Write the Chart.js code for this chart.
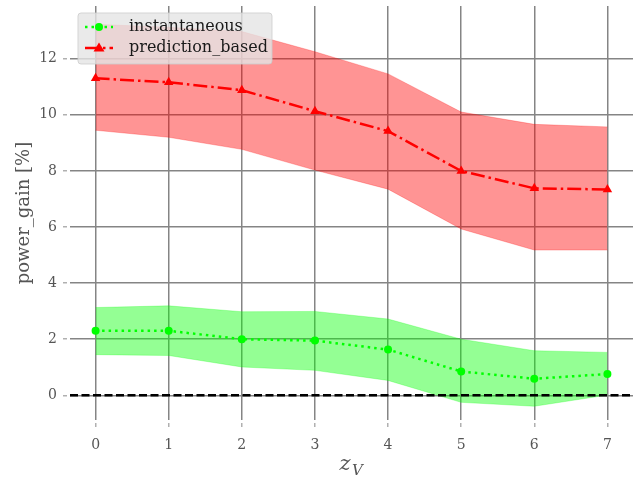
<!DOCTYPE html>
<html>
<head>
<meta charset="utf-8">
<script src="https://cdn.jsdelivr.net/npm/chart.js@4/dist/chart.umd.min.js"></script>
<style>
  html, body { margin: 0; padding: 0; background: #fff; }
  #wrap { width: 644px; height: 479px; }
</style>
</head>
<body>
<div id="wrap"><canvas id="c" width="644" height="479"></canvas></div>
<script>
// values
var zV = [0, 1, 2, 3, 4, 5, 6, 7]
var instMean  = [2.30, 2.30, 2.00, 1.95, 1.63, 0.85, 0.59, 0.76]
var instUpper = [3.13, 3.19, 2.98, 2.99, 2.72, 2.00, 1.59, 1.53]
var instLower = [1.45, 1.42, 1.01, 0.89, 0.53, -0.25, -0.39, 0.01]
var predMean  = [11.30, 11.16, 10.88, 10.13, 9.42, 8.00, 7.38, 7.34]
var predUpper = [13.23, 13.12, 12.97, 12.25, 11.46, 10.10, 9.66, 9.57]
var predLower = [9.45, 9.20, 8.77, 8.03, 7.35, 5.93, 5.18, 5.18]
var yTicks = [0, 2, 4, 6, 8, 10, 12]
var xLim = [-0.35, 7.35]
var yLim = [-0.88, 13.88]

var seriesLabels = ['instantaneous', 'prediction_based']

function pts (arr) {
  return zV.map(function (x, i) { return { x: x, y: arr[i] } })
}

var serif = 'DejaVu Serif'
var textGray = '#555555'

// legend drawn by hand so the line samples keep their dash + marker
var legendPlugin = {
  id: 'mplLegend',
  afterDraw: function (chart) {
    var ctx = chart.ctx
    ctx.save()
    var x0 = 78, y0 = 13, w = 194, h = 51, r = 3
    ctx.beginPath()
    ctx.roundRect(x0, y0, w, h, r)
    ctx.fillStyle = 'rgba(229,229,229,0.8)'
    ctx.fill()
    ctx.strokeStyle = 'rgba(204,204,204,0.8)'
    ctx.lineWidth = 1
    ctx.stroke()

    var items = [
      { label: seriesLabels[0], color: '#00ff00', dash: [2.5, 4], marker: 'circle', y: 27 },
      { label: seriesLabels[1], color: '#ff0000', dash: [14, 4, 2.5, 4], marker: 'triangle', y: 48 }
    ]
    items.forEach(function (it) {
      ctx.beginPath()
      ctx.setLineDash(it.dash)
      ctx.strokeStyle = it.color
      ctx.lineWidth = 2.5
      ctx.moveTo(85, it.y)
      ctx.lineTo(113, it.y)
      ctx.stroke()
      ctx.setLineDash([])
      ctx.fillStyle = it.color
      ctx.beginPath()
      if (it.marker === 'circle') {
        ctx.arc(99, it.y, 4, 0, Math.PI * 2)
      } else {
        ctx.moveTo(99, it.y - 5.5)
        ctx.lineTo(104.5, it.y + 3.5)
        ctx.lineTo(93.5, it.y + 3.5)
        ctx.closePath()
      }
      ctx.fill()
      ctx.fillStyle = '#1a1a1a'
      ctx.font = '16px "' + serif + '"'
      ctx.textBaseline = 'middle'
      ctx.textAlign = 'left'
      ctx.fillText(it.label, 129, it.y)
    })
    ctx.restore()
  }
}

// x axis title z_V (math style, subscript)
var xTitlePlugin = {
  id: 'xTitle',
  afterDraw: function (chart) {
    var ctx = chart.ctx
    var area = chart.chartArea
    var cx = (area.left + area.right) / 2
    ctx.save()
    ctx.fillStyle = textGray
    ctx.textBaseline = 'alphabetic'
    ctx.textAlign = 'left'
    ctx.font = 'italic 21px "' + serif + '"'
    ctx.fillText('z', cx - 12, 470)
    ctx.font = 'italic 15px "' + serif + '"'
    ctx.fillText('V', cx + 0.5, 475)
    ctx.restore()
  }
}

var gridStyle = {
  color: '#858585',
  lineWidth: 1.5,
  tickLength: 10,
  tickColor: '#b0b0b0',
  tickBorderDash: [4, 3],
  tickBorderDashOffset: 4
}

new Chart(document.getElementById('c'), {
  type: 'line',
  data: {
    datasets: [
      {
        label: 'predUpper', data: pts(predUpper),
        borderColor: 'rgba(255,0,0,0.25)', borderWidth: 1,
        pointRadius: 0, fill: false, order: 5
      },
      {
        label: 'predLower', data: pts(predLower),
        borderColor: 'rgba(255,0,0,0.25)', borderWidth: 1,
        backgroundColor: 'rgba(255,0,0,0.42)',
        pointRadius: 0, fill: '-1', order: 4
      },
      {
        label: 'instUpper', data: pts(instUpper),
        borderColor: 'rgba(0,255,0,0.25)', borderWidth: 1,
        pointRadius: 0, fill: false, order: 5
      },
      {
        label: 'instLower', data: pts(instLower),
        borderColor: 'rgba(0,255,0,0.25)', borderWidth: 1,
        backgroundColor: 'rgba(0,255,0,0.42)',
        pointRadius: 0, fill: '-1', order: 4
      },
      {
        label: seriesLabels[1], data: pts(predMean),
        borderColor: '#ff0000', backgroundColor: '#ff0000',
        borderWidth: 2.5, borderDash: [14, 4, 2.5, 4],
        pointStyle: 'triangle', pointRadius: 5.5, pointBorderWidth: 0,
        fill: false, order: 2
      },
      {
        label: seriesLabels[0], data: pts(instMean),
        borderColor: '#00ff00', backgroundColor: '#00ff00',
        borderWidth: 2.5, borderDash: [2.5, 4],
        pointStyle: 'circle', pointRadius: 4, pointBorderWidth: 0,
        fill: false, order: 1
      },
      {
        label: 'zero', data: [{ x: xLim[0], y: 0 }, { x: xLim[1], y: 0 }],
        borderColor: '#000000', borderWidth: 2.5, borderDash: [8, 3.5],
        pointRadius: 0, fill: false, order: 0
      }
    ]
  },
  options: {
    responsive: false,
    animation: false,
    events: [],
    layout: { padding: { left: 0, right: 11, top: 6, bottom: 0 } },
    plugins: {
      legend: { display: false },
      tooltip: { enabled: false }
    },
    scales: {
      x: {
        type: 'linear',
        min: xLim[0], max: xLim[1],
        afterBuildTicks: function (s) { s.ticks = zV.map(function (v) { return { value: v } }) },
        afterFit: function (s) { s.height = 59; s.paddingLeft = 0; s.paddingRight = 0 },
        border: { display: false },
        grid: gridStyle,
        ticks: {
          color: textGray, padding: 7, maxRotation: 0,
          font: { family: serif, size: 14 }
        }
      },
      y: {
        type: 'linear',
        min: yLim[0], max: yLim[1],
        afterBuildTicks: function (s) { s.ticks = yTicks.map(function (v) { return { value: v } }) },
        afterFit: function (s) { s.width = 70; s.paddingTop = 0; s.paddingBottom = 0 },
        border: { display: false },
        grid: gridStyle,
        ticks: {
          color: textGray, padding: 3,
          font: { family: serif, size: 14 }
        },
        title: {
          display: true, text: 'power_gain [%]', color: textGray,
          font: { family: serif, size: 18 },
          padding: { top: 14, bottom: 0 }
        }
      }
    }
  },
  plugins: [legendPlugin, xTitlePlugin]
})
</script>
</body>
</html>
